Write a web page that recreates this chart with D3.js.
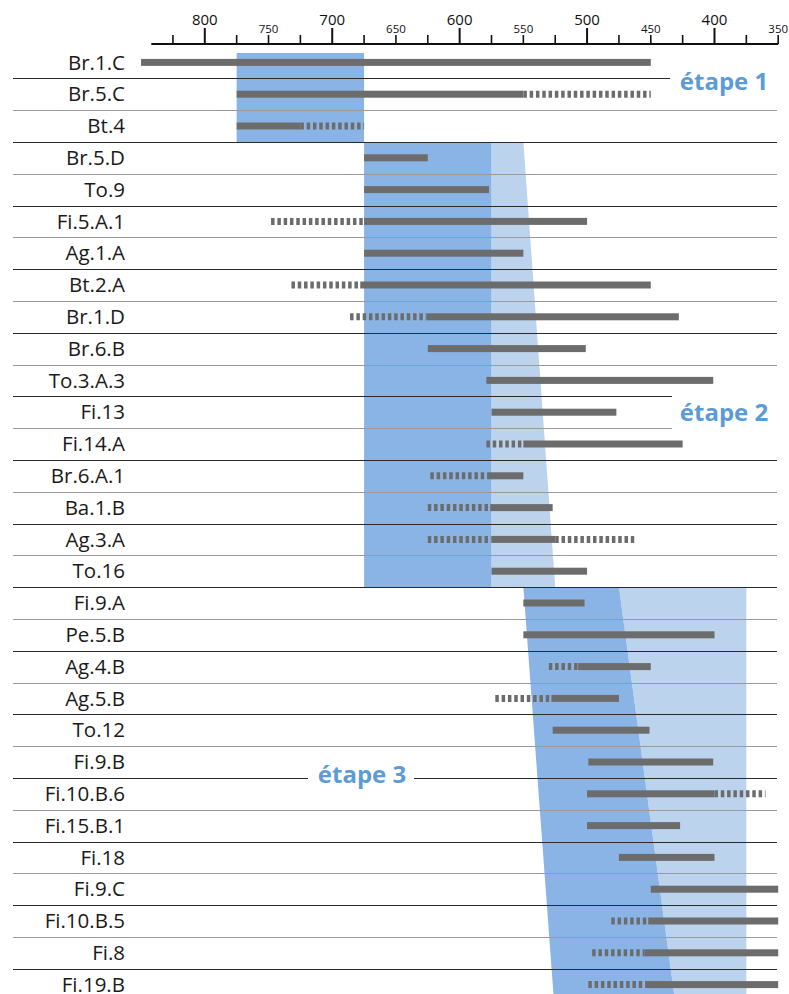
<!DOCTYPE html>
<html lang="fr">
<head>
    <meta charset="UTF-8">
    <title>Étapes chronologiques</title>
    <script src="https://d3js.org/d3.v7.min.js"></script>
    <style>
        body {
            margin: 0;
            background: #fff;
            font-family: "Open Sans", "Noto Sans", sans-serif;
        }
        svg {
            display: block;
        }
        .row-label {
            font-size: 20.5px;
            fill: #1a1a1a;
        }
        .stage-label {
            font-size: 24px;
            font-weight: bold;
            fill: #5b9bd6;
        }
    </style>
</head>
<body>
    <svg width="789" height="994"></svg>

    <script>
        // Rows, top to bottom
        const labels = ["Br.1.C", "Br.5.C", "Bt.4", "Br.5.D", "To.9", "Fi.5.A.1", "Ag.1.A", "Bt.2.A",
            "Br.1.D", "Br.6.B", "To.3.A.3", "Fi.13", "Fi.14.A", "Br.6.A.1", "Ba.1.B", "Ag.3.A", "To.16",
            "Fi.9.A", "Pe.5.B", "Ag.4.B", "Ag.5.B", "To.12", "Fi.9.B", "Fi.10.B.6", "Fi.15.B.1", "Fi.18",
            "Fi.9.C", "Fi.10.B.5", "Fi.8", "Fi.19.B"];

        // Solid ranges [label, from, to]
        const solidRanges = [
            ["Br.1.C", 850, 450], ["Br.5.C", 775, 550], ["Bt.4", 775, 725], ["Br.5.D", 675, 625],
            ["To.9", 675, 577], ["Fi.5.A.1", 675, 500], ["Ag.1.A", 675, 550], ["Bt.2.A", 678, 450],
            ["Br.1.D", 626, 428], ["Br.6.B", 625, 501], ["To.3.A.3", 579, 401], ["Fi.13", 575, 477],
            ["Fi.14.A", 550, 425], ["Br.6.A.1", 577, 550], ["Ba.1.B", 576, 527], ["Ag.3.A", 575, 525],
            ["To.16", 575, 500], ["Fi.9.A", 550, 502], ["Pe.5.B", 550, 400], ["Ag.4.B", 507, 450],
            ["Ag.5.B", 528, 475], ["To.12", 527, 451], ["Fi.9.B", 499, 401], ["Fi.10.B.6", 500, 400],
            ["Fi.15.B.1", 500, 427], ["Fi.18", 475, 400], ["Fi.9.C", 450, 350], ["Fi.10.B.5", 452, 350],
            ["Fi.8", 455, 350], ["Fi.19.B", 453, 350]
        ];

        // Uncertain (dotted) ranges [label, from, to]
        const dottedRanges = [
            ["Br.5.C", 550, 450], ["Bt.4", 725, 675], ["Fi.5.A.1", 748, 675], ["Bt.2.A", 732, 678],
            ["Br.1.D", 686, 626], ["Fi.14.A", 579, 550], ["Br.6.A.1", 623, 577], ["Ba.1.B", 625, 576],
            ["Ag.3.A", 625, 575], ["Ag.3.A", 525, 463], ["Ag.4.B", 530, 507], ["Ag.5.B", 572, 528],
            ["Fi.10.B.6", 400, 360], ["Fi.10.B.5", 481, 452], ["Fi.8", 496, 455], ["Fi.19.B", 499, 453]
        ];

        // Stages: first row, last row, main band [top from, top to, bottom from, bottom to],
        // second (lighter) band, same layout
        const stageNames = ["étape 1", "étape 2", "étape 3"];
        const stageRows = [["Br.1.C", "Bt.4"], ["Br.5.D", "To.16"], ["Fi.9.A", "Fi.19.B"]];
        const stageMain = [[775, 675, 775, 675], [675, 575, 675, 575], [550, 475, 526, 431]];
        const stageLight = [null, [575, 550, 575, 525], [475, 375, 431, 375]];

        // Axis ticks
        const majorTicks = [800, 700, 600, 500, 400];
        const minorTicks = [825, 775, 750, 725, 675, 650, 625, 575, 550, 525, 475, 450, 425, 375, 350];
        const labelledMinor = [750, 650, 550, 450, 350];

        const rowTop = 46.5;
        const rowH = 31.8;
        const axisY = 44;

        const svg = d3.select("svg");

        const x = d3.scaleLinear()
            .domain([800, 350])
            .range([204.8, 778.2]);

        const y = d3.scaleBand()
            .domain(labels)
            .range([rowTop, rowTop + rowH * labels.length])
            .padding(0);

        const barColor = "#6c6c6c";
        const darkBlue = "#8bb4e6";
        const lightBlue = "#bcd3ee";

        // Stage bands
        const bands = svg.append("g");
        stageNames.forEach((name, i) => {
            const y0 = i === 0 ? 53 : y(stageRows[i][0]);
            const y1 = y(stageRows[i][1]) + y.bandwidth();
            const poly = (b) => [
                [x(b[0]), y0], [x(b[1]), y0], [x(b[3]), y1], [x(b[2]), y1]
            ];
            if (stageLight[i]) {
                bands.append("polygon")
                    .attr("points", poly(stageLight[i]).join(" "))
                    .attr("fill", lightBlue);
            }
            bands.append("polygon")
                .attr("points", poly(stageMain[i]).join(" "))
                .attr("fill", darkBlue);
        });

        // Row separators
        const sepX0 = 13;
        const sepX1 = 777;
        const seps = svg.append("g");
        labels.slice(1).forEach((lab, i) => {
            const yy = Math.round(y(lab)) + 0.5;
            const stroke = i % 2 === 0 ? "#2a2a2a" : "#9a9a9a";
            let pieces = [[sepX0, sepX1]];
            if (lab === "Br.5.C") pieces = [[sepX0, 670]];
            if (lab === "Fi.13" || lab === "Fi.14.A") pieces = [[sepX0, 672]];
            if (lab === "Fi.10.B.6") pieces = [[sepX0, 308], [414, sepX1]];
            pieces.forEach(p => {
                seps.append("line")
                    .attr("x1", p[0]).attr("x2", p[1])
                    .attr("y1", yy).attr("y2", yy)
                    .attr("stroke", stroke)
                    .attr("stroke-width", 1);
            });
        });

        // Solid bars
        svg.append("g").selectAll("rect")
            .data(solidRanges)
            .join("rect")
            .attr("x", d => x(d[1]))
            .attr("width", d => x(d[2]) - x(d[1]))
            .attr("y", d => y(d[0]) + y.bandwidth() / 2 - 3.5)
            .attr("height", 7)
            .attr("fill", barColor);

        // Dotted bars
        svg.append("g").selectAll("line")
            .data(dottedRanges)
            .join("line")
            .attr("x1", d => x(d[1]))
            .attr("x2", d => x(d[2]))
            .attr("y1", d => y(d[0]) + y.bandwidth() / 2)
            .attr("y2", d => y(d[0]) + y.bandwidth() / 2)
            .attr("stroke", barColor)
            .attr("stroke-width", 7)
            .attr("stroke-dasharray", "3.5,2.8");

        // Row labels
        svg.append("g").selectAll("text")
            .data(labels)
            .join("text")
            .attr("class", "row-label")
            .attr("x", 125)
            .attr("y", d => y(d) + y.bandwidth() / 2)
            .attr("dy", "0.35em")
            .attr("text-anchor", "end")
            .text(d => d);

        // Top axis
        const axis = svg.append("g");
        axis.append("line")
            .attr("x1", x(842)).attr("x2", x(350))
            .attr("y1", axisY).attr("y2", axisY)
            .attr("stroke", "#111")
            .attr("stroke-width", 2);

        axis.selectAll(".major")
            .data(majorTicks)
            .join("line")
            .attr("class", "major")
            .attr("x1", d => x(d)).attr("x2", d => x(d))
            .attr("y1", axisY - 16).attr("y2", axisY)
            .attr("stroke", "#111")
            .attr("stroke-width", 2);

        axis.selectAll(".minor")
            .data(minorTicks)
            .join("line")
            .attr("class", "minor")
            .attr("x1", d => x(d)).attr("x2", d => x(d))
            .attr("y1", axisY - 9).attr("y2", axisY)
            .attr("stroke", "#111")
            .attr("stroke-width", 1.6);

        axis.selectAll(".major-label")
            .data(majorTicks)
            .join("text")
            .attr("class", "major-label")
            .attr("x", d => x(d))
            .attr("y", 25)
            .attr("text-anchor", "middle")
            .style("font-size", "15px")
            .style("fill", "#111")
            .text(d => d);

        axis.selectAll(".minor-label")
            .data(labelledMinor)
            .join("text")
            .attr("class", "minor-label")
            .attr("x", d => x(d))
            .attr("y", 32.5)
            .attr("text-anchor", "middle")
            .style("font-size", "11.5px")
            .style("fill", "#111")
            .text(d => d);

        // Stage labels
        const stagePos = [[724, 82], [724, 413], [362, 775]];
        svg.append("g").selectAll("text")
            .data(stageNames)
            .join("text")
            .attr("class", "stage-label")
            .attr("x", (d, i) => stagePos[i][0])
            .attr("y", (d, i) => stagePos[i][1])
            .attr("dy", "0.35em")
            .attr("text-anchor", "middle")
            .text(d => d);
    </script>
</body>
</html>
